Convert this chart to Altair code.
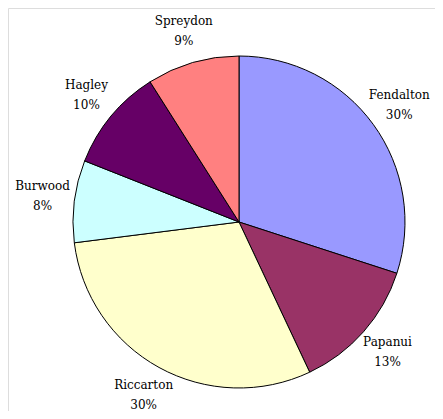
import altair as alt
import pandas as pd

names = ["Fendalton", "Papanui", "Riccarton", "Burwood", "Hagley", "Spreydon"]
shares = [30, 13, 30, 8, 10, 9]
colors = ["#9999FF", "#993366", "#FFFFCC", "#CCFFFF", "#660066", "#FF8080"]

df = pd.DataFrame({
    "name": names,
    "share": shares,
    "order": list(range(len(names))),
    "label": [f"{n}\n{s}%" for n, s in zip(names, shares)],
})

cx, cy = 231, 214

base = alt.Chart(df).encode(
    theta=alt.Theta("share:Q", stack=True),
    order=alt.Order("order:Q"),
)

pie = base.mark_arc(stroke="black", strokeWidth=1, outerRadius=166).encode(
    x=alt.value(cx), y=alt.value(cy),
    color=alt.Color("name:N", scale=alt.Scale(domain=names, range=colors), legend=None),
)

text = base.mark_text(
    radius=198, font="DejaVu Serif", fontSize=12,
    fontWeight="normal", lineBreak="\n", lineHeight=20, align="center",
    baseline="middle", color="black", dy=-11,
).encode(
    x=alt.value(cx), y=alt.value(cy),
    text="label:N",
)

chart = alt.layer(pie, text).properties(
    width=427, height=403, autosize=alt.AutoSizeParams(type="none"), padding=0
).configure_view(strokeWidth=0, stroke="transparent").configure(background="white")

chart.save("out.html", embed_options={"renderer": "svg", "actions": False})
